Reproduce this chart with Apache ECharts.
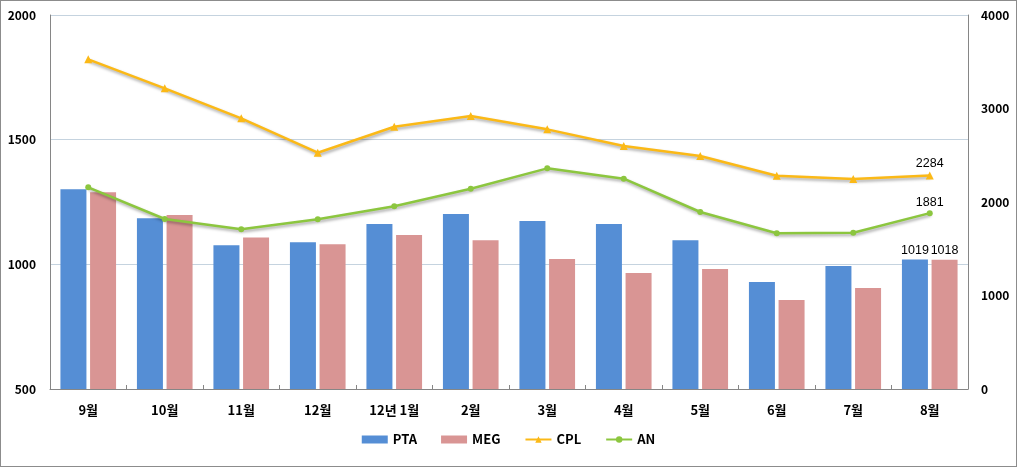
<!DOCTYPE html>
<html>
<head>
<meta charset="utf-8">
<script src="https://cdn.jsdelivr.net/npm/echarts@6/dist/echarts.min.js"></script>
<style>
html,body{margin:0;padding:0;background:#fff;}
#wrap{width:1017px;height:467px;box-sizing:border-box;border:1px solid #8c8c8c;position:relative;}
#chart{position:absolute;left:-1px;top:-1px;width:1017px;height:467px;}
</style>
</head>
<body>
<div id="wrap"><div id="chart"></div></div>
<script>
const categories = ['9월','10월','11월','12월','12년 1월','2월','3월','4월','5월','6월','7월','8월'];
const pta = [1301, 1185, 1077, 1089, 1162, 1202, 1174, 1162, 1097, 929, 993, 1019];
const meg = [1289, 1198, 1108, 1081, 1118, 1097, 1021, 965, 981, 857, 905, 1018];
const cpl = [3526, 3216, 2895, 2527, 2805, 2920, 2777, 2599, 2492, 2281, 2246, 2284];
const an  = [2157, 1818, 1708, 1815, 1954, 2142, 2360, 2249, 1893, 1665, 1672, 1881];
const leftTicks = [500, 2000, 500];   // min, max, interval
const rightTicks = [0, 4000, 1000];

const FONT = "'Noto Sans CJK KR', 'Malgun Gothic', sans-serif";
const lastLabel = (arr, dist) => arr.map((v, i) => i === arr.length - 1
  ? {value: v, label: {show: true, position: 'top', distance: dist, color: '#000', fontSize: 12.5, fontFamily: "'Liberation Sans', Arial, sans-serif"}}
  : v);

const chart = echarts.init(document.getElementById('chart'));
const lineShadow = {shadowColor: 'rgba(0,0,0,0.35)', shadowBlur: 3, shadowOffsetX: 1, shadowOffsetY: 2};
const plain = (v) => String(v);
chart.setOption({
  animation: false,
  backgroundColor: 'transparent',
  textStyle: {fontFamily: FONT},
  grid: {left: 50, right: 49, top: 15, bottom: 78},
  legend: {
    bottom: 16, left: 'center', itemGap: 24, itemWidth: 26, itemHeight: 8,
    textStyle: {fontFamily: FONT, fontWeight: 'bold', fontSize: 13, color: '#000'},
    data: [
      {name: 'PTA', icon: 'rect'},
      {name: 'MEG', icon: 'rect'},
      {name: 'CPL'},
      {name: 'AN'}
    ]
  },
  xAxis: {
    type: 'category', data: categories,
    axisLine: {lineStyle: {color: '#868686', width: 1}},
    axisTick: {show: true, inside: true, length: 4, lineStyle: {color: '#868686'}},
    axisLabel: {color: '#000', fontWeight: 'bold', fontSize: 13, margin: 15, fontFamily: FONT}
  },
  yAxis: [
    {
      type: 'value', min: leftTicks[0], max: leftTicks[1], interval: leftTicks[2],
      axisLine: {show: true, lineStyle: {color: '#868686'}},
      axisTick: {show: false},
      axisLabel: {color: '#000', fontWeight: 'bold', fontSize: 12, margin: 14, fontFamily: FONT, formatter: plain},
      splitLine: {show: true, lineStyle: {color: '#c5d3df', width: 1}}
    },
    {
      type: 'value', min: rightTicks[0], max: rightTicks[1], interval: rightTicks[2],
      position: 'right',
      axisLine: {show: true, lineStyle: {color: '#868686'}},
      axisTick: {show: false},
      axisLabel: {color: '#000', fontWeight: 'bold', fontSize: 12, margin: 13, fontFamily: FONT, formatter: plain},
      splitLine: {show: false}
    }
  ],
  series: [
    {name: 'PTA', type: 'bar', yAxisIndex: 0, data: lastLabel(pta, 3), barWidth: 26, barGap: '14%',
     itemStyle: {color: '#558ed5'}},
    {name: 'MEG', type: 'bar', yAxisIndex: 0, data: lastLabel(meg, 3), barWidth: 26, barGap: '14%',
     itemStyle: {color: '#d99594'}},
    {name: 'CPL', type: 'line', yAxisIndex: 1, data: lastLabel(cpl, 1), symbol: 'triangle', symbolSize: 8,
     lineStyle: Object.assign({color: '#fbb917', width: 2.5}, lineShadow),
     itemStyle: {color: '#fbb917'}},
    {name: 'AN', type: 'line', yAxisIndex: 1, data: lastLabel(an, 1), symbol: 'circle', symbolSize: 6,
     lineStyle: Object.assign({color: '#8cc63f', width: 2.5}, lineShadow),
     itemStyle: {color: '#8cc63f'}}
  ]
});
</script>
</body>
</html>
